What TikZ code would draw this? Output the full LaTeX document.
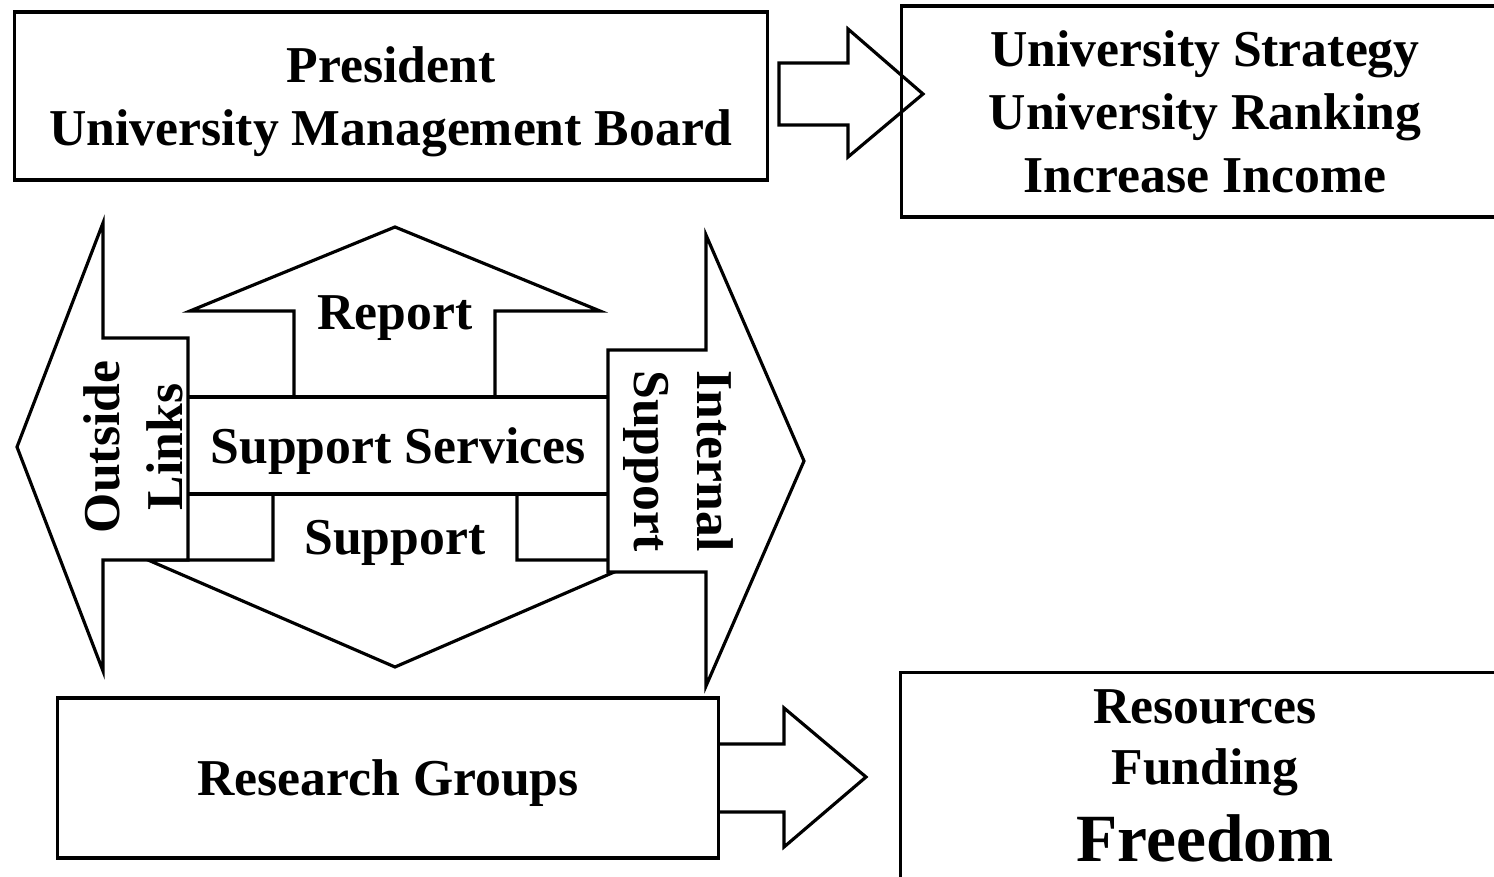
\documentclass[tikz,border=0pt]{standalone}
\usepackage{fontspec}
\setmainfont{Liberation Serif}
\usetikzlibrary{positioning}

\begin{document}
\begin{tikzpicture}[
    x=0.01cm, y=-0.01cm,
    every node/.style={font=\bfseries\fontsize{14.7}{17.9}\selectfont, align=center, inner sep=0pt},
    box/.style={draw, line width=0.9pt, text depth=0pt},
    blockarrow/.style={draw, line width=0.9pt, line join=miter},
    big/.style={font=\bfseries\fontsize{19.2}{23}\selectfont}
    ]

    % page frame
    \path[use as bounding box, clip] (0,0) rectangle (1494,877);

    % Top row
    \node (president) [box, minimum width=7.52cm, minimum height=1.68cm] at (391,96) {President\\University Management Board};
    \node (strategy) [box, minimum width=6.06cm, minimum height=2.11cm] at (1205,111.5) {University Strategy\\University Ranking\\Increase Income};
    \draw [blockarrow] (779,63) -- (848,63) -- (848,29) -- (923,94) -- (848,157) -- (848,125) -- (779,125) -- cycle;

    % Middle: four block arrows round the services box
    \draw [blockarrow, fill=white] (294,397) -- (294,311) -- (190,311) -- (395,227) -- (600,311) -- (495,311) -- (495,397) -- cycle;
    \draw [blockarrow, fill=white] (273,494) -- (273,560) -- (148,560) -- (395,667) -- (642,560) -- (517,560) -- (517,494) -- cycle;
    \node (services) [box, fill=white, minimum width=4.2cm, minimum height=0.97cm] at (398,445.5) {Support Services};
    \draw [blockarrow, fill=white] (17,447) -- (103,223) -- (103,338) -- (188,338) -- (188,560) -- (103,560) -- (103,671) -- cycle;
    \draw [blockarrow, fill=white] (608,350) -- (706,350) -- (706,235) -- (804,461) -- (706,686) -- (706,572) -- (608,572) -- cycle;

    \node (report) [anchor=base] at (395,330) {Report};
    \node (support) [anchor=base] at (395,555) {Support};
    \node (outside) [rotate=90] at (133,447) {Outside\\Links};
    \node (internal) [rotate=-90] at (678,461) {Internal\\Support};

    % Bottom row
    \node (research) [box, minimum width=6.6cm, minimum height=1.6cm] at (388,778) {Research Groups};
    \draw [blockarrow] (718,744) -- (784,744) -- (784,708) -- (866,777) -- (784,847) -- (784,812) -- (718,812);
    \node (resbox) [box, minimum width=6.08cm, minimum height=3cm, anchor=north] at (1205,671) {};
    \node (resources) [anchor=base] at (1205,724) {Resources};
    \node (funding) [anchor=base] at (1205,785) {Funding};
    \node (freedom) [anchor=base, big] at (1205,862) {Freedom};

\end{tikzpicture}
\end{document}
